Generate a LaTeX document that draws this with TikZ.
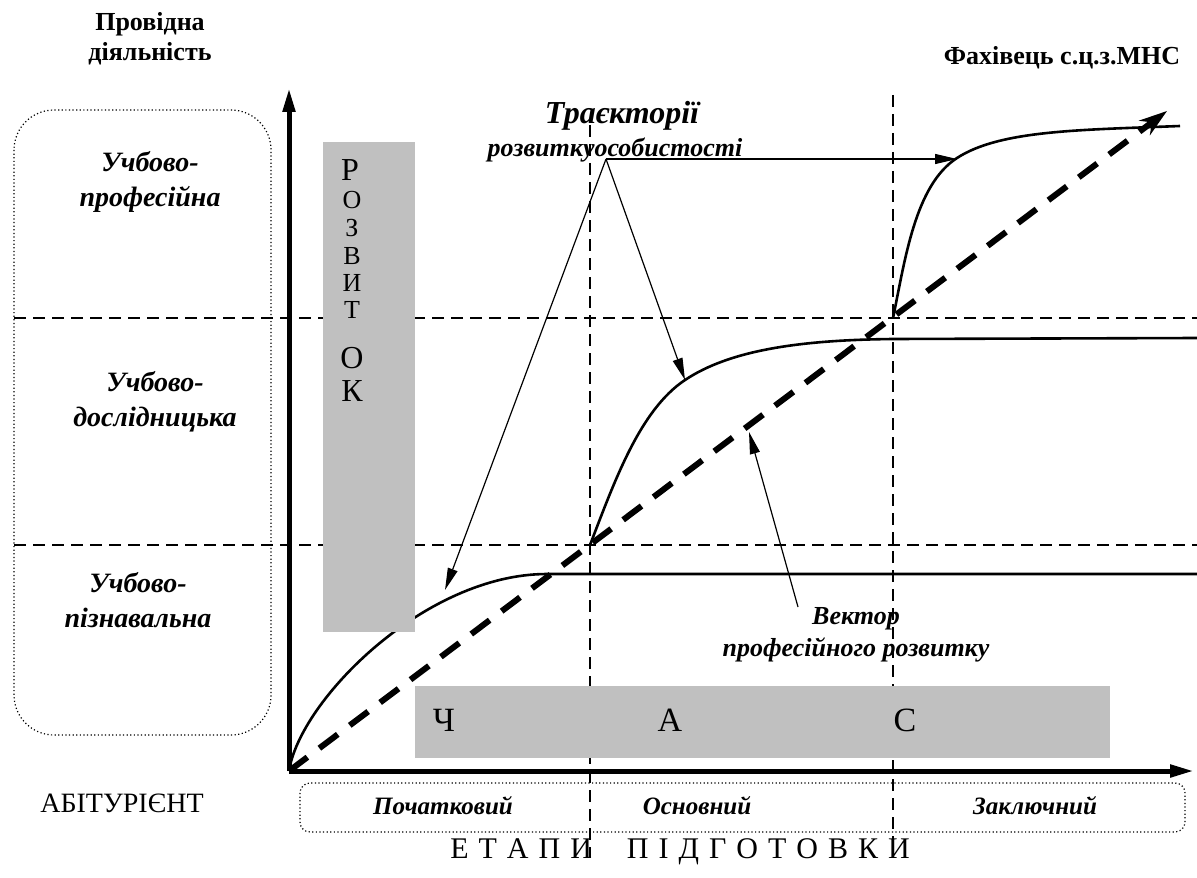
\documentclass[tikz,border=0pt]{standalone}
\usepackage{fontspec}
\setmainfont{Liberation Serif}
\usetikzlibrary{arrows.meta}
\definecolor{boxgrey}{HTML}{C0C0C0}
\begin{document}
\begin{tikzpicture}[x=0.5pt,y=-0.5pt,
  grid/.style={line width=1pt,dash pattern=on 6pt off 3.5pt},
  curve/.style={line width=1.3pt},
  vec/.style={line width=3pt,dash pattern=on 11.5pt off 7.5pt,-{Stealth[length=14pt,width=9pt]}},
  axis/.style={line width=2.5pt,-{Triangle[length=12pt,width=6pt]}},
  ptr/.style={line width=0.6pt,-{Triangle[length=11pt,width=5pt]}},
  dotbox/.style={draw,line width=0.6pt,dash pattern=on 0.6pt off 1.2pt},
  greybox/.style={fill=boxgrey,draw=none},
  lbl/.style={font=\bfseries\itshape\fontsize{14}{17.5}\selectfont,align=center,inner sep=0pt},
  big/.style={font=\fontsize{16}{18}\selectfont,inner sep=0pt},
  small/.style={font=\fontsize{13}{15}\selectfont,inner sep=0pt},
  stage/.style={font=\bfseries\itshape\fontsize{12.5}{14}\selectfont,inner sep=0pt},
  chas/.style={font=\fontsize{17}{19}\selectfont,inner sep=0pt},
]
\useasboundingbox (0,0) rectangle (1197,877);

% grid lines
\coordinate (h1a) at (14,318);  \coordinate (h1b) at (1197,318);
\coordinate (h2a) at (14,545);  \coordinate (h2b) at (1197,545);
\coordinate (v1a) at (590,125); \coordinate (v1b) at (590,858);
\coordinate (v2a) at (893,95);  \coordinate (v2b) at (893,858);
\draw[grid] (h1a) -- (h1b);
\draw[grid] (h2a) -- (h2b);
\draw[grid] (v1a) -- (v1b);
\draw[grid] (v2a) -- (v2b);

% frames
\draw[dotbox,rounded corners=20pt] (14,110) rectangle (271,735);
\draw[dotbox,rounded corners=5pt] (300,783) rectangle (1185,832);

% axes
\coordinate (O) at (289,771);
\coordinate (ytip) at (289,88);
\coordinate (xtip) at (1194,771);

% curves
\coordinate (c1e) at (547,574);
\coordinate (c1f) at (1197,574);
\coordinate (p1) at (590,545);
\coordinate (c2m) at (685,380);
\coordinate (c2e) at (893,339);
\coordinate (c2f) at (1197,338);
\coordinate (p2) at (893,318);
\coordinate (c3m) at (957,158);
\coordinate (c3e) at (1180,126);
\draw[curve] (O) .. controls (300,700) and (425,574) .. (c1e) -- (c1f);
\draw[curve] (p1) .. controls (615,480) and (640,410) .. (c2m)
             .. controls (730,350) and (800,340) .. (c2e) -- (c2f);
\draw[curve] (p2) .. controls (905,260) and (915,185) .. (c3m)
             .. controls (1000,130) and (1080,130) .. (c3e);

% grey boxes
\fill[greybox] (323,142) rectangle (415,632);
\fill[greybox] (415,686) rectangle (1110,758);

% vector
\coordinate (vtip) at (1167,111);
\draw[vec] (O) -- (vtip);

\draw[axis] (O) -- (ytip);
\draw[axis] (O) -- (xtip);

% letters in grey boxes
\node[big] (r1) at (350,170) {Р};
\node[small] (r2) at (352,200) {О};
\node[small] (r3) at (352,228) {З};
\node[small] (r4) at (352,256) {В};
\node[small] (r5) at (352,283) {И};
\node[small] (r6) at (352,310) {Т};
\node[big] (r7) at (352,358) {О};
\node[big] (r8) at (352,391) {К};
\node[chas] (ch) at (444,720) {Ч};
\node[chas] (ca) at (670,720) {А};
\node[chas] (cs) at (905,720) {С};

% texts
\node[font=\bfseries\fontsize{13}{15}\selectfont,align=center,inner sep=0pt] (pd) at (150,39) {Провідна\\діяльність};
\node[font=\bfseries\fontsize{13}{15}\selectfont,inner sep=0pt] (fah) at (1062,58) {Фахівець с.ц.з.МНС};
\node[lbl] (up) at (150,182) {Учбово-\\професійна};
\node[lbl] (ud) at (155,402) {Учбово-\\дослідницька};
\node[lbl] (un) at (138,600) {Учбово-\\пізнавальна};
\node[font=\bfseries\itshape\fontsize{16}{18}\selectfont,inner sep=0pt] (tr1) at (622,116) {Траєкторії};
\node[font=\bfseries\itshape\fontsize{13}{15}\selectfont,inner sep=0pt,anchor=base] (tr2) at (615,157) {розвиткуособистості};
\node[lbl,font=\bfseries\itshape\fontsize{13}{16}\selectfont] (vl) at (856,635) {Вектор\\професійного розвитку};
\node[stage] (st1) at (443,806) {Початковий};
\node[stage] (st2) at (697,806) {Основний};
\node[stage] (st3) at (1035,806) {Заключний};
\node[font=\fontsize{14}{16}\selectfont,inner sep=0pt] (ab) at (122,803) {АБІТУРІЄНТ};
\node[font=\fontsize{15}{17}\selectfont,inner sep=0pt] (et) at (680,852) {Е\,\,Т\,\,А\,\,П\,\,И\quad\,П\,\,І\,\,Д\,\,Г\,\,О\,\,Т\,\,О\,\,В\,\,К\,\,И};

% pointers
\coordinate (apex) at (606,159);
\coordinate (t1) at (445,590);
\coordinate (t2) at (685,380);
\coordinate (t3) at (957,159);
\coordinate (vtail) at (798,607);
\coordinate (vt) at (749,432);
\draw[ptr] (apex) -- (t1);
\draw[ptr] (apex) -- (t2);
\draw[ptr] (apex) -- (t3);
\draw[ptr] (vtail) -- (vt);
\end{tikzpicture}
\end{document}
